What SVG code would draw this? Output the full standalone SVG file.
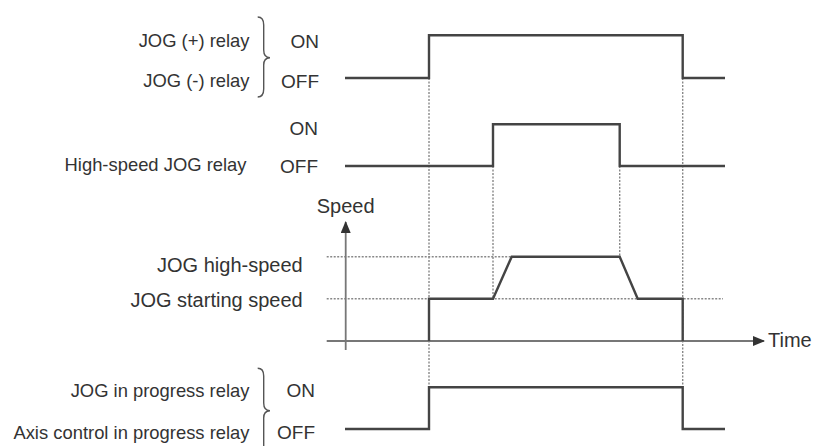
<svg xmlns="http://www.w3.org/2000/svg" width="815" height="446" viewBox="0 0 815 446">
<style>
text{font-family:"Liberation Sans",Arial,sans-serif;fill:#333}
.lbl{font-size:18.4px;text-anchor:end}
.st{font-size:19px;text-anchor:end}
.sp{font-size:20px}
.sig{fill:none;stroke:#444;stroke-width:2.4;stroke-linejoin:miter}
.dot{fill:none;stroke:#888;stroke-width:1.4;stroke-dasharray:2 1.5}
.axis{fill:none;stroke:#777;stroke-width:1.8}
.brace{fill:none;stroke:#555;stroke-width:1.4}
</style>
<defs>
<marker id="ah" markerWidth="12" markerHeight="10" refX="11" refY="5" orient="auto" markerUnits="userSpaceOnUse">
<path d="M0,0 L12,5 L0,10 Z" fill="#333"/>
</marker>
</defs>
<g id="labels">
<text class="lbl" x="249.5" y="47.3">JOG (+) relay</text>
<text class="lbl" x="249.5" y="87">JOG (-) relay</text>
<text class="st" x="319" y="48">ON</text>
<text class="st" x="319" y="88">OFF</text>
<path class="brace" d="M257.7,17 Q263.7,17 263.7,25 L263.7,50 Q263.7,57.7 270,57.7 Q263.7,57.7 263.7,65 L263.7,89 Q263.7,97 257.7,97"/>
<text class="st" x="318" y="135">ON</text>
<text class="lbl" x="246.5" y="171">High-speed JOG relay</text>
<text class="st" x="318" y="173">OFF</text>
<text class="sp" x="316.7" y="213.3">Speed</text>
<text class="sp" x="302.7" y="271.7" text-anchor="end">JOG high-speed</text>
<text class="sp" x="302.7" y="306.7" text-anchor="end">JOG starting speed</text>
<text class="sp" x="768" y="347">Time</text>
<text class="lbl" x="249.5" y="396.7">JOG in progress relay</text>
<text class="lbl" x="249.5" y="438.7">Axis control in progress relay</text>
<text class="st" x="315" y="397.3">ON</text>
<text class="st" x="315" y="439">OFF</text>
<path class="brace" d="M257.7,368.3 Q263.7,368.3 263.7,376 L263.7,403 Q263.7,410.7 270,410.7 Q263.7,410.7 263.7,418 L263.7,446 Q263.7,454 257.7,454"/>
</g>
<g id="connectors">
<line class="dot" x1="429" y1="78" x2="429" y2="387"/>
<line class="dot" x1="682.7" y1="78" x2="682.7" y2="387"/>
<line class="dot" x1="493" y1="166" x2="493" y2="298.7"/>
<line class="dot" x1="619.7" y1="166" x2="619.7" y2="256.7" stroke="#555"/>
<line class="dot" x1="326.7" y1="256.7" x2="511.7" y2="256.7"/>
<line class="dot" x1="326.7" y1="298.7" x2="723" y2="298.7"/>
<line class="axis" x1="345.7" y1="350" x2="345.7" y2="222" marker-end="url(#ah)"/>
<line class="axis" x1="326.7" y1="341" x2="764" y2="341" marker-end="url(#ah)"/>
</g>
<g id="signals">
<polyline class="sig" points="345,78 429,78 429,35.3 682.7,35.3 682.7,78 725,78"/>
<polyline class="sig" points="345,166 493,166 493,124.3 619.7,124.3 619.7,166 725,166"/>
<polyline class="sig" points="429,341 429,298.7 493,298.7 511.7,256.7 619.7,256.7 637.7,298.7 682.7,298.7 682.7,341"/>
<polyline class="sig" points="345,429 429,429 429,387.3 682.7,387.3 682.7,429 725,429"/>
</g>
</svg>
